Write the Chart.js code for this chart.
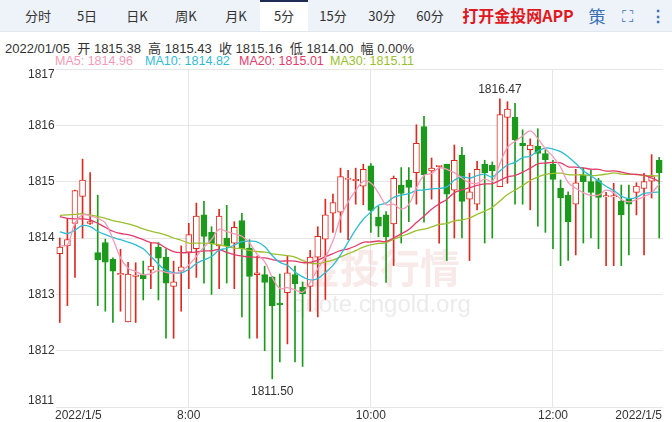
<!DOCTYPE html>
<html><head><meta charset="utf-8">
<script src="https://cdn.jsdelivr.net/npm/chart.js@4"></script>
<style>
body{margin:0;width:672px;height:422px;overflow:hidden;background:#fff;font-family:"Noto Sans CJK SC","Liberation Sans",sans-serif;position:relative}
#bar{position:absolute;left:0;top:0;width:672px;height:31px;background:#eef2f9;border-bottom:1px solid #e2e6ee}
.t{position:absolute;top:0;height:31px;line-height:31px;font-size:13px;color:#333;transform:translateX(-50%)}
#act{position:absolute;left:260px;top:0;width:48px;height:31px;background:#fff;border-top:2px solid #1d2b55;box-sizing:border-box}
#info{position:absolute;left:5px;top:38px;font-size:13px;color:#333;white-space:pre;font-family:"Liberation Sans","Noto Sans CJK SC",sans-serif}
.ma{position:absolute;top:54px;font-size:12.5px;font-family:"Liberation Sans",sans-serif;white-space:pre}
canvas{position:absolute;left:0;top:0}
</style></head><body>
<div id="bar"><div id="act"></div>
<div class="t" style="left:38px">分时</div><div class="t" style="left:87px">5日</div><div class="t" style="left:137px">日K</div><div class="t" style="left:186px">周K</div><div class="t" style="left:236px">月K</div><div class="t" style="left:284px">5分</div><div class="t" style="left:333px">15分</div><div class="t" style="left:382px">30分</div><div class="t" style="left:430px">60分</div>
<div class="t" style="left:518px;color:#e0191e;font-weight:bold;font-size:16px">打开金投网APP</div>
<div class="t" style="left:597px;color:#3a6fb6;font-size:17px">策</div>
<div class="t" style="left:627px;color:#3a6fb6;font-size:16px">⛶</div>
<div class="t" style="left:658px;color:#3a6fb6;font-size:16px;font-weight:bold">⋮</div>
</div>
<div id="info">2022/01/05  开 1815.38  高 1815.43  收 1815.16  低 1814.00  幅 0.00%</div>
<div class="ma" style="left:55px;color:#f49ab8">MA5: 1814.96</div>
<div class="ma" style="left:145px;color:#2fbcd4">MA10: 1814.82</div>
<div class="ma" style="left:239px;color:#e23c6c">MA20: 1815.01</div>
<div class="ma" style="left:330px;color:#9bc02e">MA30: 1815.11</div>
<canvas id="c" width="672" height="422"></canvas>
<script>
const opens=[1813.72,1813.86,1814.26,1814.74,1814.26,1813.74,1813.92,1813.62,1813.36,1812.51,1813.33,1813.35,1813.43,1813.84,1813.66,1813.14,1813.41,1813.75,1813.81,1814.41,1814.1,1813.86,1814.0,1813.91,1814.31,1813.82,1813.35,1813.35,1813.31,1812.83,1813.03,1813.35,1813.13,1813.14,1813.66,1813.98,1814.44,1814.46,1815.05,1815.03,1814.92,1815.28,1814.37,1814.41,1814.25,1814.94,1815.03,1815.16,1815.98,1815.19,1815.28,1815.31,1814.85,1815.47,1814.69,1814.6,1815.31,1815.29,1814.91,1816.14,1816.14,1815.68,1815.57,1815.63,1815.5,1815.31,1814.88,1814.76,1814.6,1815.12,1815.0,1815.02,1814.74,1814.74,1814.65,1814.69,1814.81,1814.88,1815.01,1815.38];
const highs=[1814.0,1814.35,1814.85,1815.4,1815.16,1814.76,1813.98,1813.65,1813.8,1813.57,1813.56,1813.59,1813.91,1813.92,1813.8,1813.59,1813.86,1814.26,1814.62,1814.65,1814.2,1814.51,1814.58,1814.29,1814.44,1813.97,1813.68,1813.5,1813.32,1813.36,1813.68,1813.5,1813.22,1813.78,1814.2,1814.69,1814.78,1815.24,1815.2,1815.24,1815.31,1815.32,1814.56,1814.47,1815.1,1815.25,1815.25,1816.01,1816.16,1815.42,1815.29,1815.31,1815.65,1815.61,1815.15,1815.36,1815.38,1815.35,1816.47,1816.42,1816.39,1815.92,1815.76,1815.94,1815.57,1815.38,1815.03,1814.82,1815.22,1815.24,1815.21,1815.06,1814.81,1814.97,1814.94,1814.94,1814.98,1815.15,1815.48,1815.43];
const lows=[1812.5,1812.8,1813.3,1814.0,1814.24,1812.8,1812.7,1812.5,1812.7,1812.51,1812.5,1812.9,1813.1,1812.9,1812.22,1812.22,1812.7,1813.1,1813.3,1813.2,1813.0,1813.1,1813.2,1813.1,1812.6,1812.22,1812.22,1812.0,1811.5,1811.8,1812.12,1811.8,1811.72,1812.7,1812.6,1812.91,1814.1,1814.1,1813.97,1814.6,1814.59,1814.1,1814.02,1813.21,1813.51,1813.91,1814.29,1814.6,1814.28,1814.69,1813.91,1813.6,1814.0,1814.0,1813.6,1814.5,1813.91,1814.0,1814.91,1814.97,1814.6,1814.6,1814.5,1814.21,1814.1,1813.81,1813.51,1813.6,1813.7,1813.91,1814.0,1813.81,1813.51,1813.51,1813.51,1813.7,1814.41,1813.7,1814.71,1814.0];
const closes=[1813.84,1813.97,1814.84,1815.03,1814.29,1813.61,1813.57,1813.41,1813.36,1813.36,1813.33,1813.28,1813.5,1813.64,1813.2,1813.22,1813.49,1814.06,1814.39,1814.03,1813.9,1814.39,1813.86,1814.19,1813.81,1813.32,1813.38,1813.21,1812.8,1812.82,1813.38,1813.19,1813.01,1813.66,1814.03,1814.41,1814.63,1815.09,1815.05,1815.03,1815.22,1814.49,1814.21,1814.02,1815.06,1814.79,1814.9,1815.68,1815.12,1815.24,1815.28,1814.78,1815.38,1814.65,1814.82,1815.22,1815.16,1815.19,1816.19,1816.29,1815.74,1815.64,1815.65,1815.5,1815.39,1815.04,1814.71,1814.29,1814.98,1815.0,1814.81,1814.72,1814.74,1814.74,1814.41,1814.6,1814.92,1815.0,1815.09,1815.16];
// MA values for candles before each average has full history
const ma5Early=[1813.86,1813.88,1814.26,1814.41];
const ma10Early=[1814.11,1814.08,1814.14,1814.22,1814.2,1814.12,1814.06,1814.01,1813.97];
const ma20Early=[1814.38,1814.35,1814.34,1814.34,1814.32,1814.26,1814.19,1814.12,1814.08,1814.06,1814.02,1813.97,1813.92,1813.9,1813.82,1813.76,1813.74,1813.74,1813.75];
const ma30Early=[1814.4,1814.41,1814.42,1814.43,1814.41,1814.38,1814.35,1814.31,1814.28,1814.25,1814.21,1814.16,1814.12,1814.09,1814.05,1814.0,1813.96,1813.91,1813.91,1813.91,1813.9,1813.88,1813.85,1813.82,1813.81,1813.78,1813.76,1813.75,1813.72];
const xLabelIdx={17:'8:00',41:'10:00',65:'12:00'};
const dateLabel='2022/1/5';
const yTicks=[1811,1812,1813,1814,1815,1816,1817];

function ma(n,early){return closes.map((c,i)=>i<n-1?early[i]:closes.slice(i-n+1,i+1).reduce((a,b)=>a+b,0)/n);}
const labels=closes.map((c,i)=>String(i));
const UP='#dd2a20',DN='#1c9a1c';
const isUp=closes.map((c,i)=>c>=opens[i]);
const bodies=closes.map((c,i)=>{let o=opens[i];if(Math.abs(c-o)<0.02)return [o-0.012,o+0.012];return [o,c];});
const wicks=closes.map((c,i)=>[lows[i],highs[i]]);
const line=(d,col)=>({type:'line',data:d,borderColor:col,borderWidth:1.3,pointRadius:0,tension:0.4,order:1});
const deco={id:'deco',
 beforeDatasetsDraw(ch){const c=ch.ctx;c.save();
  c.fillStyle='rgba(225,150,150,0.2)';c.font='bold 40px "Noto Sans CJK SC"';c.fillText('金投行情',300,283);
  c.fillStyle='rgba(190,190,190,0.3)';c.font='24px "Liberation Sans"';c.fillText('quote.cngold.org',292,312);c.restore();},
 afterDraw(ch){const c=ch.ctx,y=ch.scales.y,x=ch.scales.x;c.save();
  c.fillStyle='#333';c.font='12px "Liberation Sans"';c.textBaseline='middle';c.textAlign='left';
  yTicks.forEach(v=>{let p=Math.min(Math.max(y.getPixelForValue(v),75),401);c.fillText(String(v),28,p);});
  c.textAlign='left';c.fillText(dateLabel,55,416);
  c.textAlign='right';c.fillText(dateLabel,662,416);
  c.textAlign='center';
  for(const k in xLabelIdx)c.fillText(xLabelIdx[k],x.getPixelForValue(+k),416);
  let hi=highs.indexOf(Math.max(...highs)),lo=lows.indexOf(Math.min(...lows));
  c.fillText(highs[hi].toFixed(2),x.getPixelForValue(hi),y.getPixelForValue(highs[hi])-9);
  c.fillText(lows[lo].toFixed(2),x.getPixelForValue(lo),y.getPixelForValue(lows[lo])+13);
  c.restore();}};
new Chart(document.getElementById('c'),{type:'bar',
 data:{labels,datasets:[
  line(ma(5,ma5Early),'#f49ab8'),line(ma(10,ma10Early),'#2fbcd4'),line(ma(20,ma20Early),'#e23c6c'),line(ma(30,ma30Early),'#9bc02e'),
  {data:bodies,grouped:false,barThickness:6,backgroundColor:isUp.map(u=>u?'#fff':DN),borderColor:isUp.map(u=>u?UP:DN),borderWidth:1,borderSkipped:false,order:2},
  {data:wicks,grouped:false,barThickness:1,backgroundColor:isUp.map(u=>u?UP:DN),borderWidth:0,order:3}
 ]},
 options:{responsive:false,animation:false,events:[],
  layout:{padding:{left:56,right:9,top:69,bottom:15}},
  plugins:{legend:{display:false},tooltip:{enabled:false}},
  scales:{
   x:{offset:true,grid:{offset:false,drawTicks:false,color:ctx=>xLabelIdx[ctx.index]?'#e6e6e6':'rgba(0,0,0,0)'},ticks:{display:false},border:{display:false}},
   y:{min:1811,max:1817,grid:{drawTicks:false,color:'#e6e6e6'},ticks:{display:false,stepSize:1},border:{display:false}}
  }},
 plugins:[deco]});
</script></body></html>
